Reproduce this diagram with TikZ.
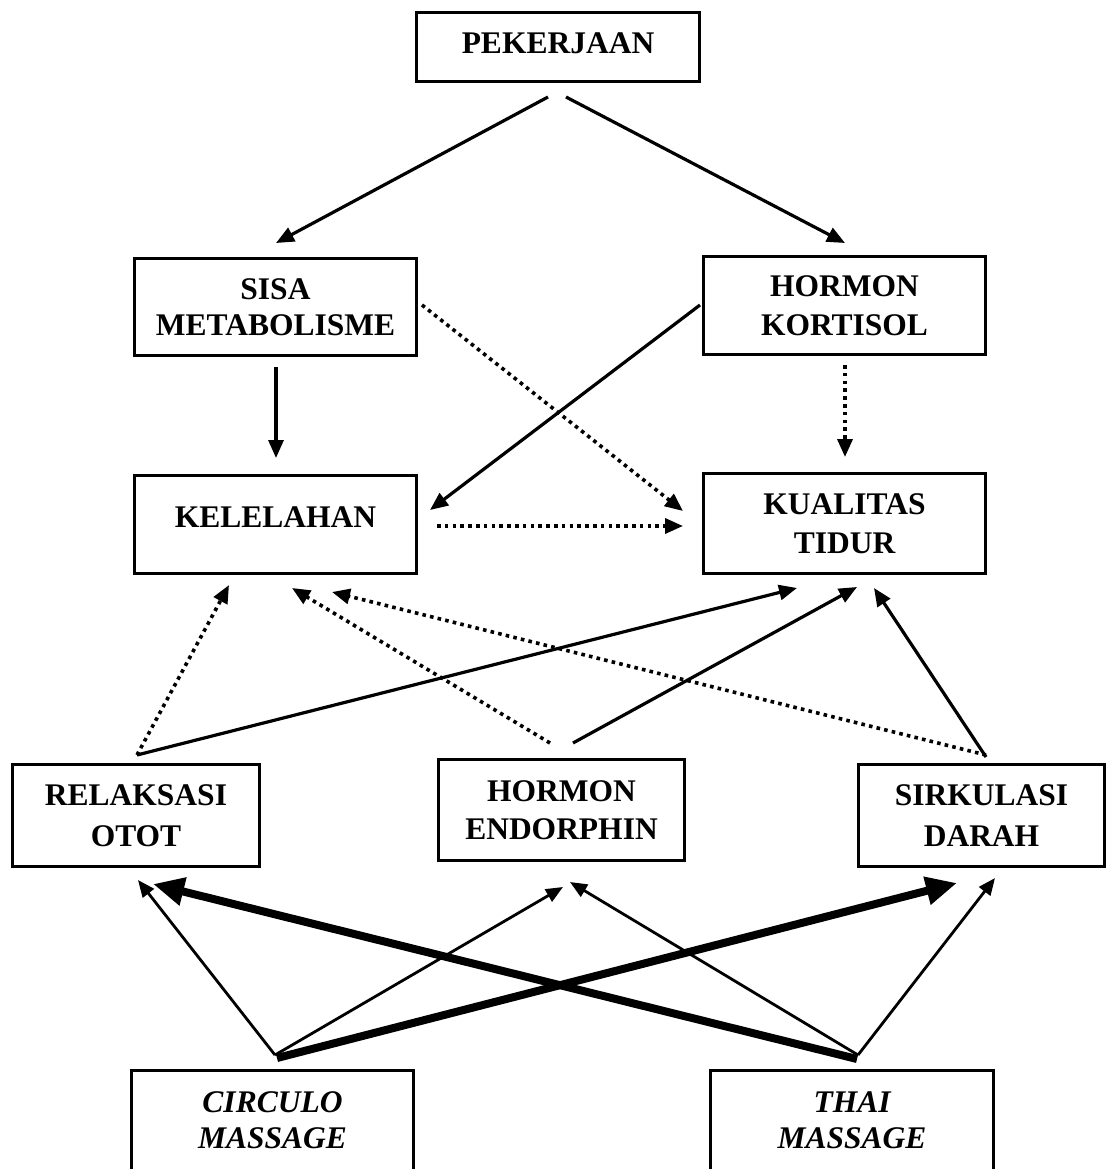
\documentclass[tikz,border=0pt]{standalone}
\usepackage{fontspec}
\setmainfont{Liberation Serif}
\usetikzlibrary{arrows.meta}
\begin{document}
\begin{tikzpicture}[x=1pt,y=-1pt,
  box/.style={draw, line width=3.6pt, rectangle, align=center, inner sep=0pt,
    minimum width=282pt, font=\bfseries\fontsize{31.5}{39.5}\selectfont},
  solarr/.style={line width=3.2pt, -{Triangle[length=18pt,width=15pt]}},
  dotarr/.style={line width=3.6pt, dash pattern=on 3.6pt off 4.2pt, -{Triangle[length=18pt,width=15pt]}},
  thinarr/.style={line width=2.8pt, -{Triangle[length=17pt,width=14pt]}},
  thickarr/.style={line width=8pt, -{Triangle[length=31pt,width=27pt]}}
]
\clip (0,0) rectangle (1107,1169);
% boxes
\node[box, minimum width=283pt, minimum height=69pt, text height=21.5pt, text depth=9pt] (pek) at (558,47) {PEKERJAAN};
\node[box, minimum height=97pt, font=\bfseries\fontsize{31.5}{35.5}\selectfont] (sisa) at (275.5,307) {SISA\\METABOLISME};
\node[box, minimum height=98pt] (kort) at (844.5,305.5) {HORMON\\KORTISOL};
\node[box, minimum height=98pt, text height=21pt, text depth=15pt] (kel) at (275.5,524.5) {KELELAHAN};
\node[box, minimum height=100pt] (kual) at (844.5,523.5) {KUALITAS\\TIDUR};
\node[box, minimum width=247pt, minimum height=102pt, font=\bfseries\fontsize{31.5}{41}\selectfont] (rel) at (136,815.5) {RELAKSASI\\OTOT};
\node[box, minimum width=246pt, minimum height=101pt, font=\bfseries\fontsize{31.5}{38.5}\selectfont] (endo) at (561.5,810) {HORMON\\ENDORPHIN};
\node[box, minimum width=246pt, minimum height=102pt, font=\bfseries\fontsize{31.5}{41}\selectfont] (sirk) at (981.5,815.5) {SIRKULASI\\DARAH};
\node[box, minimum height=100pt, font=\bfseries\itshape\fontsize{31.5}{36}\selectfont] (circ) at (272.5,1120.6) {CIRCULO\\MASSAGE};
\node[box, minimum width=283pt, minimum height=100pt, font=\bfseries\itshape\fontsize{31.5}{36}\selectfont] (thai) at (852,1120.6) {THAI\\MASSAGE};
% connector end points
\coordinate (pekL) at (548,97);
\coordinate (pekR) at (566,97);
\coordinate (sisaT) at (276,243);
\coordinate (kortT) at (845,243);
\coordinate (sisaB) at (276,367);
\coordinate (kelT) at (276,458);
\coordinate (kortL) at (700,305);
\coordinate (kelR) at (430,510);
\coordinate (sisaR) at (422,305);
\coordinate (kualL) at (683,511);
\coordinate (kortB) at (845,365);
\coordinate (kualT) at (845,457);
\coordinate (kelRm) at (437,526);
\coordinate (kualLm) at (683,526);
\coordinate (relT) at (137,755);
\coordinate (kelB1) at (229,585);
\coordinate (kualB1) at (797,588);
\coordinate (endoT1) at (550,743);
\coordinate (kelB2) at (292,588);
\coordinate (endoT2) at (573,743);
\coordinate (kualB2) at (857,587);
\coordinate (sirkT1) at (986,755);
\coordinate (kelB3) at (332,592);
\coordinate (sirkT2) at (986,757);
\coordinate (kualB3) at (874,588);
\coordinate (circT) at (275,1055);
\coordinate (circT2) at (277,1058);
\coordinate (thaiT) at (858,1055);
\coordinate (thaiT2) at (857,1059);
\coordinate (relB1) at (138,880);
\coordinate (relB2) at (153,884);
\coordinate (endoB1) at (563,887);
\coordinate (endoB2) at (570,882);
\coordinate (sirkB1) at (957,883);
\coordinate (sirkB2) at (995,878);
% connectors
\draw[solarr] (pekL) -- (sisaT);
\draw[solarr] (pekR) -- (kortT);
\draw[solarr] (sisaB) -- (kelT);
\draw[solarr] (kortL) -- (kelR);
\draw[dotarr] (sisaR) -- (kualL);
\draw[dotarr] (kortB) -- (kualT);
\draw[dotarr] (kelRm) -- (kualLm);
\draw[dotarr] (relT) -- (kelB1);
\draw[solarr] (relT) -- (kualB1);
\draw[dotarr] (endoT1) -- (kelB2);
\draw[solarr] (endoT2) -- (kualB2);
\draw[dotarr] (sirkT1) -- (kelB3);
\draw[solarr] (sirkT2) -- (kualB3);
\draw[thinarr] (circT) -- (relB1);
\draw[thinarr] (circT) -- (endoB1);
\draw[thickarr] (circT2) -- (sirkB1);
\draw[thickarr] (thaiT2) -- (relB2);
\draw[thinarr] (thaiT) -- (endoB2);
\draw[thinarr] (thaiT) -- (sirkB2);
\end{tikzpicture}
\end{document}
